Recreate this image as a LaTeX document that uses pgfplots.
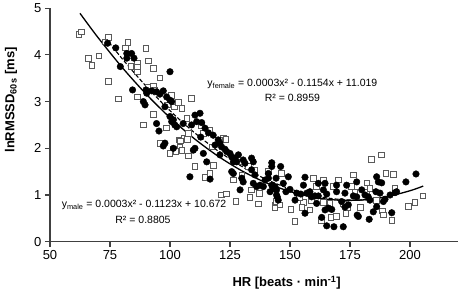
\documentclass[border=0pt]{standalone}
\usepackage{pgfplots}
\usepackage{pgfplotstable}
\usepackage{fontspec}
\setmainfont{Liberation Sans}
\pgfplotsset{compat=1.18}

\pgfplotstableread{
x y
62 4.44
63 4.49
74.3 4.37
82.4 4.27
90 4.14
81.3 4.15
66 3.93
70.4 3.98
67.4 3.78
72.9 4.28
91 3.87
86.5 3.82
86.5 3.73
86.5 3.64
83.75 3.75
93 3.71
95.8 3.51
74.3 3.43
78.5 3.06
86.3 3.10
91 3.30
93 3.32
93.75 3.25
100.7 3.13
99 2.93
101.8 2.89
103.5 2.98
104.9 2.86
93 2.73
88.9 2.50
98.6 2.44
104 2.18
106 2.22
109 3.07
107 2.64
113.2 2.48
113.9 2.32
116.4 2.39
107.6 2.32
104.4 2.16
107.2 2.19
104.2 2.03
101.4 1.98
100 1.89
102.5 1.93
104.9 1.95
107.6 1.84
96.1 2.11
122.2 2.21
123.3 2.19
120.8 2.18
117.4 2.03
118 1.64
110.4 1.61
114.6 1.38
116.7 1.46
126.4 1.32
121.5 1.00
123.6 1.02
127.5 0.86
136.8 0.81
134 1.11
137.2 1.04
133.3 0.95
135.4 1.54
132.6 1.61
129.9 1.43
143.75 0.79
144.4 0.86
141 1.50
129.2 1.71
184 1.76
188.2 1.86
190 1.46
193 1.44
176.4 1.43
170.1 1.32
182 1.26
193.75 1.14
205.3 0.98
202.1 0.84
199.3 0.75
143.75 0.72
145.8 0.79
150.3 0.69
152.1 0.43
159.7 1.36
161.1 1.18
163.9 1.32
168 1.19
175.7 1.19
155.6 0.84
158.3 0.68
154.9 0.74
153.9 0.95
163.9 0.84
166.7 0.82
167 0.52
169.4 0.54
172.2 0.81
173.9 0.72
173.3 0.61
179.4 0.74
181.9 1.05
186.1 0.89
188.6 0.66
188.9 0.57
192.4 0.46
163.2 0.45
177.1 1.07
183.3 1.14
146.5 1.46
159 0.89
}\female

\pgfplotstableread{
x y
74 4.25
77.4 4.15
82 4.03
84 4.03
85 3.93
82 3.93
79.3 3.75
100 3.64
84.4 3.25
90 3.25
90.3 3.18
92.4 3.23
95.8 3.16
97.2 3.23
98.6 3.10
100 3.03
100.7 3.00
88.9 3.00
89.6 2.93
97.9 2.89
100 2.68
101.4 2.61
102 2.50
94.4 2.53
95.4 2.37
94.4 3.21
102.8 2.46
100.7 2.57
105.5 2.53
110.4 2.71
112.5 2.75
111.1 2.57
109 2.50
113.2 2.55
114.6 2.43
116 2.33
112.8 2.24
118 2.28
120.1 2.18
118.75 2.07
121.5 2.03
120.8 2.11
122.9 1.98
97.9 2.11
97.2 2.05
110.4 2.00
109.7 1.96
113.9 1.89
115.3 1.71
120.8 1.86
123.6 1.93
125 1.89
125.7 1.82
127.1 1.79
127.8 1.71
126.4 1.71
128.5 1.86
130.5 1.75
131.25 1.68
134 1.79
134.7 1.71
108.3 1.39
116.7 1.34
125.7 1.50
126.4 1.46
129.9 1.36
130.5 1.28
134 1.54
135.4 1.43
129.2 1.11
134.7 1.25
136.1 1.18
137.5 1.21
139.6 1.32
141 1.46
141 1.36
142.4 1.21
143.75 1.18
144.4 1.11
141.7 1.07
144.7 0.96
138.9 1.18
142.4 1.69
142.4 1.61
146.1 1.61
144.2 1.36
147.2 1.25
143.1 1.14
149.3 1.39
150 1.12
148.3 1.07
152.8 1.04
152.1 0.89
156.25 1.38
155.6 1.21
157 1.04
156.25 0.61
161.8 1.25
164.6 1.25
163.9 1.11
161.8 0.98
161.1 0.82
165.3 1.02
159 0.96
158.3 1.07
166 0.72
167.4 0.69
164.6 0.68
163.2 0.52
165.3 0.34
168.3 0.32
172.2 0.32
169.4 1.21
169.4 1.07
172.9 1.04
173.6 1.21
171.5 0.86
172.9 0.74
174.3 0.79
177.8 1.28
179.9 1.11
177.8 0.96
176.4 0.98
178 0.57
178.5 0.54
181.25 1.00
183.3 0.89
182.6 0.96
183 0.48
184.7 0.64
186.1 1.39
186.8 1.28
188.2 1.26
185.8 1.07
187.5 1.04
189.6 0.91
188.9 0.86
186.1 0.75
192.4 0.62
191.7 1.00
193.75 1.05
194.4 1.07
198.3 1.28
202.5 1.45
160.4 0.98
154.5 1.02
144.4 1.00
145.1 0.89
101.4 2.00
}\male

\pgfplotstableread{
x y
62.5 4.890
70 4.372
80 3.736
90 3.164
100 2.656
110 2.212
120 1.832
130 1.516
140 1.263
150 1.075
160 0.950
170 0.890
180 0.893
190 0.960
200 1.091
205.5 1.191
}\trendA

\pgfplotstableread{
x y
73 4.374
80 3.923
90 3.332
100 2.805
110 2.343
120 1.944
130 1.609
140 1.338
150 1.131
160 0.987
170 0.909
180 0.893
190 0.960
}\trendB

\definecolor{axgray}{HTML}{404040}
\definecolor{sqgray}{HTML}{5A5A5A}

\begin{document}
\begin{tikzpicture}
\useasboundingbox (-50pt,-57.3pt) rectangle (411pt,241.7pt);
\begin{axis}[
  scale only axis,
  width=408pt, height=233.5pt,
  xmin=50, xmax=220, ymin=0, ymax=5,
  axis x line*=bottom, axis y line*=left,
  axis line style={-, axgray, line width=1.3pt},
  xtick={50,75,...,200}, ytick={0,1,...,5},
  tick align=outside, major tick length=5pt,
  tick style={axgray, line width=1.1pt},
  /pgf/number format/assume math mode=true,
  ticklabel style={font=\fontsize{13}{15}\selectfont},
  clip=false,
  xlabel={\textbf{HR [beats · min\textsuperscript{-1}]}},
  xlabel style={at={(axis description cs:0.58,-0.177)}, anchor=center, font=\fontsize{13}{15}\selectfont},
  ylabel={\textbf{lnRMSSD\textsubscript{60s} [ms]}},
  ylabel style={at={(axis description cs:-0.0956,0.607)}, anchor=center, rotate=0, font=\fontsize{13}{15}\selectfont},
]
\addplot[only marks, mark=square*, mark size=2.8pt, mark options={fill=white, draw=sqgray, line width=0.8pt}] table {\female};
\addplot[only marks, mark=*, mark size=3.3pt, mark options={fill=black, draw=black}] table {\male};
\addplot[black, line width=1.3pt, smooth] table {\trendA};
\addplot[black, line width=1.1pt, dash pattern=on 4pt off 2pt, smooth] table {\trendB};
\node[font=\fontsize{10.5}{12}\selectfont, anchor=center] at (axis cs:151,3.38) {y\textsubscript{female} = 0.0003x² - 0.1154x + 11.019};
\node[font=\fontsize{10.5}{12}\selectfont, anchor=center] at (axis cs:151,3.08) {R² = 0.8959};
\node[font=\fontsize{10.5}{12}\selectfont, anchor=center] at (axis cs:89.2,0.786) {y\textsubscript{male} = 0.0003x² - 0.1123x + 10.672};
\node[font=\fontsize{10.5}{12}\selectfont, anchor=center] at (axis cs:88.75,0.465) {R² = 0.8805};
\end{axis}
\end{tikzpicture}
\end{document}
